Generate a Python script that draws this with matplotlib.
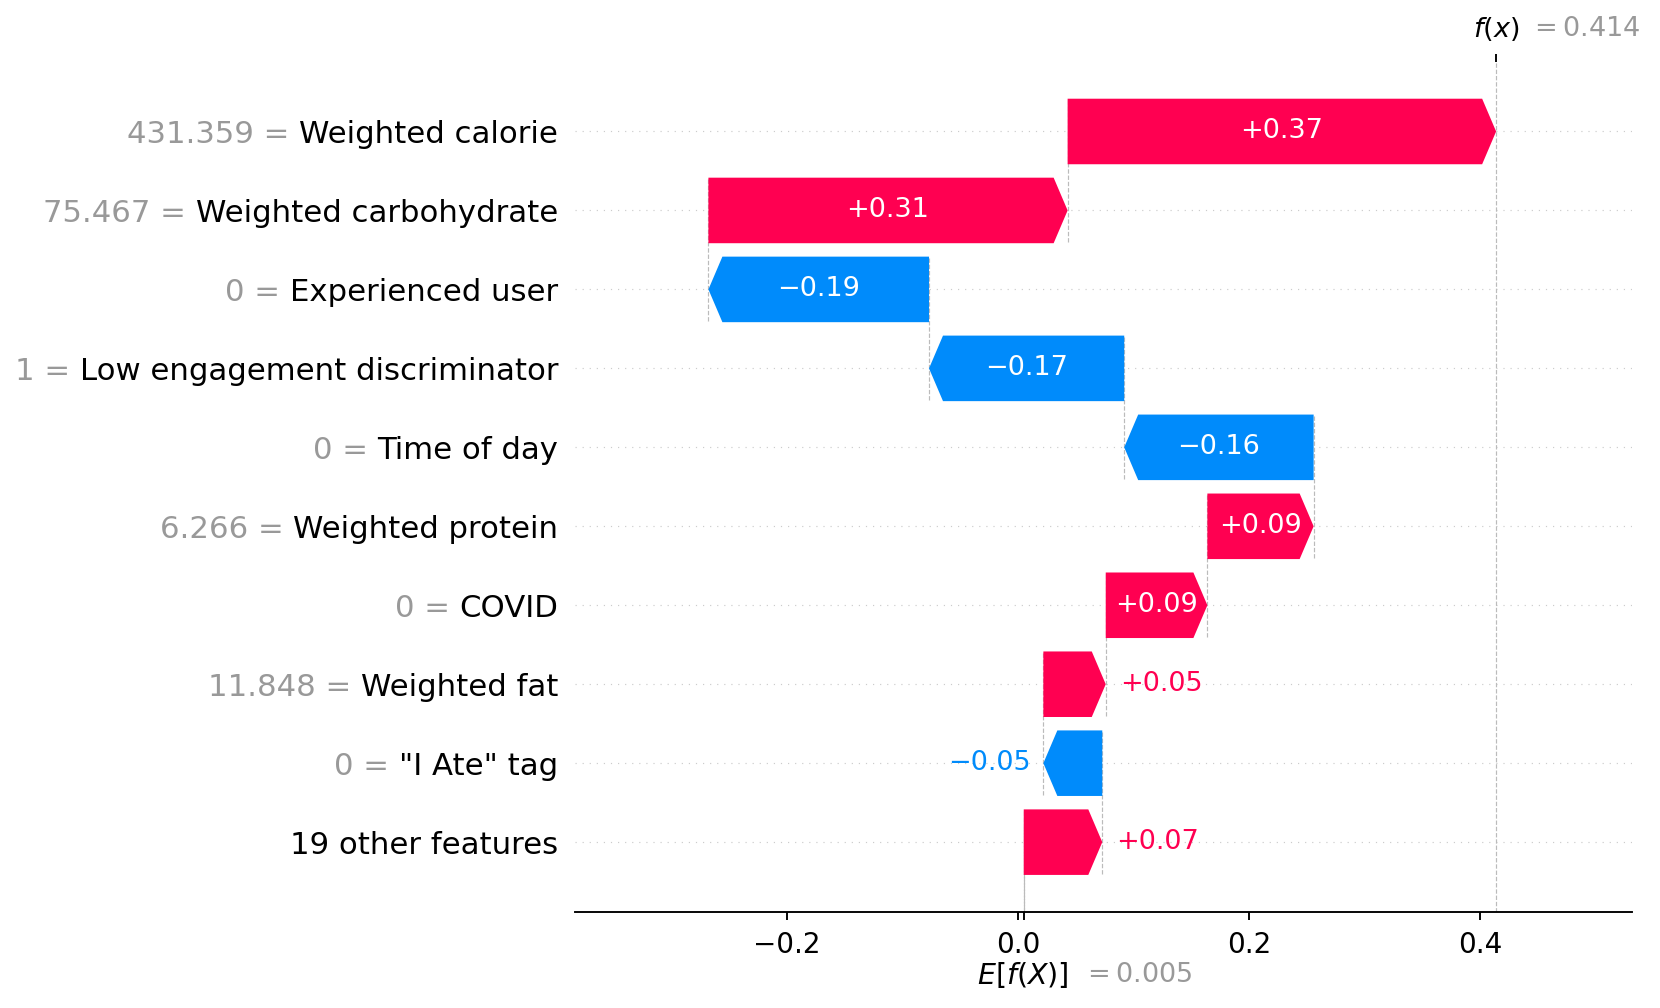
import matplotlib
matplotlib.use("Agg")
import matplotlib.pyplot as plt
from matplotlib.patches import Polygon
import numpy as np

# ---------------- data ----------------
features = ["Weighted calorie", "Weighted carbohydrate", "Experienced user",
            "Low engagement discriminator", "Time of day", "Weighted protein",
            "COVID", "Weighted fat", '"I Ate" tag', "19 other features"]
feature_values = ["431.359", "75.467", "0", "1", "0", "6.266", "0", "11.848", "0", None]
shap_values = [0.371, 0.311, -0.191, -0.169, -0.164, 0.092, 0.088, 0.054, -0.051, 0.068]
base_value = 0.005

RED = "#ff0051"
BLUE = "#008bfb"
GRAY = "#999999"
LINE = "#bbbbbb"

n = len(features)
rows = np.arange(n)[::-1]          # first feature on top

# cumulative positions (computed from the data, from bottom row upward)
starts = np.zeros(n)
ends = np.zeros(n)
cur = base_value
for i in reversed(range(n)):
    starts[i] = cur
    cur += shap_values[i]
    ends[i] = cur
fx = cur

DPI = 100
fig = plt.figure(figsize=(16.6, 10.08), dpi=DPI)
ax = fig.add_axes([0.3464, 0.0952, 0.6367, 0.8433])
ax.set_xlim(-0.3835, 0.5316)
ax.set_ylim(-0.885, n - 1 + 0.88)

half = 0.415
hl = 0.0121

# horizontal dotted row lines
for y in rows:
    ax.axhline(y, color="#cccccc", lw=0.85, dashes=(1, 5), zorder=-1)

# base / f(x) lines
ax.axvline(base_value, 0, 1.0 / n, color=LINE, ls="--", lw=0.85, zorder=-1)
ax.axvline(fx, 0, 1, color=LINE, ls="--", lw=0.85, zorder=-1)

# bars (arrows)
for i in range(n):
    y = rows[i]
    s, e, v = starts[i], ends[i], shap_values[i]
    d = np.sign(v)
    h = min(hl, abs(v))
    be = e - d * h
    pts = [(s, y - half), (be, y - half), (e, y), (be, y + half), (s, y + half)]
    ax.add_patch(Polygon(pts, closed=True, facecolor=RED if v > 0 else BLUE,
                         edgecolor="none", zorder=2))
    ax.plot([s, s], [y - 1 - 0.4, y + 0.4], color=LINE, ls="--", lw=0.85, zorder=-1)

# bar labels
fig.canvas.draw()
renderer = fig.canvas.get_renderer()
p0 = ax.transData.transform((0, 0))[0]
p1 = ax.transData.transform((1, 0))[0]
ppu = p1 - p0
for i in range(n):
    y = rows[i]
    s, e, v = starts[i], ends[i], shap_values[i]
    lab = ("%+0.02f" % v).replace("-", "\u2212")
    t = ax.text((s + e) / 2, y, lab, ha="center", va="center", color="white",
                fontsize=19.5, zorder=3)
    bb = t.get_window_extent(renderer=renderer)
    if bb.width > abs(v) * ppu:
        t.remove()
        col = RED if v > 0 else BLUE
        if v > 0:
            ax.annotate(lab, xy=(e, y), xytext=(10, 0), textcoords="offset points",
                        ha="left", va="center", color=col, fontsize=19.5)
        else:
            ax.annotate(lab, xy=(e, y), xytext=(-9, 0), textcoords="offset points",
                        ha="right", va="center", color=col, fontsize=19.5)

# y labels: gray "value =" part, black feature name
LFS = 22.15
PAD = 12  # points
for i in range(n):
    y = rows[i]
    ax.annotate(features[i], xy=(0, y), xycoords=("axes fraction", "data"),
                xytext=(-PAD, 0), textcoords="offset points", ha="right",
                va="center_baseline", color="black", fontsize=LFS)
    if feature_values[i] is not None:
        full = feature_values[i] + " = " + features[i]
        tmp = ax.text(0, 0, full, fontsize=LFS)
        wpx = tmp.get_window_extent(renderer=renderer).width
        tmp.remove()
        wpt = wpx * 72.0 / DPI
        ax.annotate(feature_values[i] + " =", xy=(0, y), xycoords=("axes fraction", "data"),
                    xytext=(-PAD - wpt, 0), textcoords="offset points", ha="left",
                    va="center_baseline", color=GRAY, fontsize=LFS)

# axes styling
for sp in ["top", "right", "left"]:
    ax.spines[sp].set_visible(False)
ax.spines["bottom"].set_linewidth(1.36)
ax.set_yticks([])
ax.set_xticks([-0.2, 0.0, 0.2, 0.4])
ax.set_xticklabels(["\u22120.2", "0.0", "0.2", "0.4"])
ax.tick_params(axis="x", labelsize=20, length=5.8, width=1.36, pad=8)

# base value tick (bottom)
ax2 = ax.twiny()
ax2.set_xlim(ax.get_xlim())
ax2.xaxis.set_ticks_position("bottom")
ax2.set_xticks([base_value])
ax2.set_xticklabels([""])
ax2.tick_params(axis="x", length=5.8, width=1.36)
for sp in ax2.spines.values():
    sp.set_visible(False)

# f(x) tick (top)
ax3 = ax.twiny()
ax3.set_xlim(ax.get_xlim())
ax3.xaxis.set_ticks_position("top")
ax3.set_xticks([fx])
ax3.set_xticklabels([""])
ax3.tick_params(axis="x", length=5.8, width=1.36)
for sp in ax3.spines.values():
    sp.set_visible(False)

# E[f(X)] and f(x) labels
ax.annotate("$E[f(X)]$", xy=(base_value, 0), xycoords=("data", "axes fraction"),
            xytext=(-1, -45.4), textcoords="offset points", ha="center", va="center",
            fontsize=20.5)
ax.annotate("$= %0.03f$" % base_value, xy=(base_value, 0), xycoords=("data", "axes fraction"),
            xytext=(42, -45.4), textcoords="offset points", ha="left", va="center",
            fontsize=19.5, color=GRAY)
ax.annotate("$f(x)$", xy=(fx, 1), xycoords=("data", "axes fraction"),
            xytext=(0, 23.4), textcoords="offset points", ha="center", va="center",
            fontsize=19.5)
ax.annotate("$= %0.03f$" % fx, xy=(fx, 1), xycoords=("data", "axes fraction"),
            xytext=(24, 23.4), textcoords="offset points", ha="left", va="center",
            fontsize=19.5, color=GRAY)

fig.savefig("out.png", dpi=DPI)
